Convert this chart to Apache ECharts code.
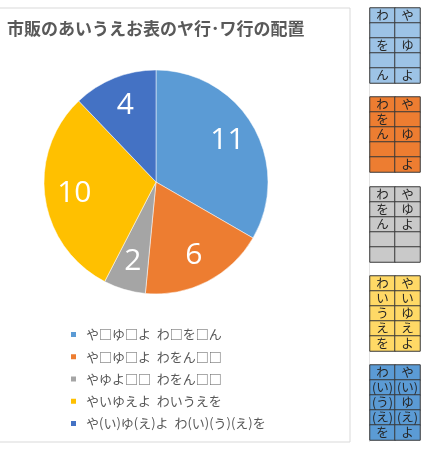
<!DOCTYPE html>
<html><head><meta charset="utf-8">
<script src="https://cdn.jsdelivr.net/npm/echarts@6/dist/echarts.min.js"></script>
<style>html,body{margin:0;padding:0;background:#fff}#c{width:432px;height:450px}</style>
</head><body><div id="c"></div>
<script>
const titleText = '市販のあいうえお表のヤ行･ワ行の配置';
const categories = ['や□ゆ□よ  わ□を□ん','や□ゆ□よ  わをん□□','やゆよ□□  わをん□□','やいゆえよ  わいうえを','や(い)ゆ(え)よ  わ(い)(う)(え)を'];
const counts = [11, 6, 2, 10, 4];
const colors = ['#5B9BD5','#ED7D31','#A5A5A5','#FFC000','#4472C4'];
const tables = [
  [['わ','や'],['',''],['を','ゆ'],['',''],['ん','よ']],
  [['わ','や'],['を',''],['ん','ゆ'],['',''],['','よ']],
  [['わ','や'],['を','ゆ'],['ん','よ'],['',''],['','']],
  [['わ','や'],['い','い'],['う','ゆ'],['え','え'],['を','よ']],
  [['わ','や'],['(い)','(い)'],['(う)','ゆ'],['(え)','(え)'],['を','よ']]
];
const tableColors = ['#9DC3E6','#ED7D31','#C9C9C9','#FFD966','#5B9BD5'];
const tableTops = [8, 97, 187, 276, 365];

const font = '"Noto Sans CJK JP","Noto Sans",sans-serif';
const grids = [], xAxes = [], yAxes = [], series = [];
tables.forEach((t, i) => {
  grids.push({left: 370, top: tableTops[i], width: 50, height: 75});
  xAxes.push({type:'category', gridIndex:i, data:['0','1'], show:false});
  yAxes.push({type:'category', gridIndex:i, data:['0','1','2','3','4'], inverse:true, show:false});
  const data = [];
  t.forEach((row, r) => row.forEach((txt, c) => data.push({value:[c, r, 1], name: txt})));
  series.push({
    type:'heatmap', xAxisIndex:i, yAxisIndex:i, data, silent:true,
    itemStyle:{color: tableColors[i], borderColor:'#3a3a3a', borderWidth:1},
    label:{show:true, formatter: p => p.name, color:'#262626', fontSize:12.5, fontFamily:font},
    emphasis:{disabled:true}
  });
});
const R = 112;
const pieData = categories.map((n, i) => ({name:n, value:counts[i], itemStyle:{color:colors[i]}}));
series.push({
  type:'pie', center:[156,182], radius:[0,R], startAngle:90, clockwise:true,
  data: pieData, label:{show:false}, labelLine:{show:false},
  itemStyle:{borderColor:'#fff', borderWidth:0.5}, emphasis:{disabled:true}
});
series.push({
  type:'pie', center:[156,182], radius:[R*0.42,R], startAngle:90, clockwise:true, silent:true,
  data: categories.map((n, i) => ({name:n, value:counts[i], itemStyle:{color:'rgba(0,0,0,0)'}})),
  label:{show:true, position:'inside', formatter:'{c}', color:'#fff', fontSize:30, fontFamily:'"Open Sans","Noto Sans",sans-serif'},
  labelLine:{show:false}, emphasis:{disabled:true}
});

const chart = echarts.init(document.getElementById('c'), null, {renderer:'canvas'});
chart.setOption({
  animation:false,
  color: colors,
  title:{text:titleText, left:2, top:15, textStyle:{color:'#595959', fontSize:17, fontWeight:'bold', fontFamily:font}},
  legend:{orient:'vertical', left:64, top:323, itemWidth:7, itemHeight:7, itemGap:9.25, icon:'rect',
    data: categories,
    textStyle:{color:'#595959', fontSize:13, fontFamily:font, lineHeight:13, padding:[0,0,0,4]}},
  grid: grids, xAxis: xAxes, yAxis: yAxes,
  graphic:[
    {type:'rect', shape:{x:-1, y:8, width:351, height:434}, style:{fill:'none', stroke:'#D9D9D9', lineWidth:1}, silent:true, z:-10},
    {type:'line', shape:{x1:369.5, y1:8, x2:369.5, y2:442}, style:{stroke:'#E3E3E3', lineWidth:1}, silent:true, z:-10}
  ],
  series
});
</script></body></html>
